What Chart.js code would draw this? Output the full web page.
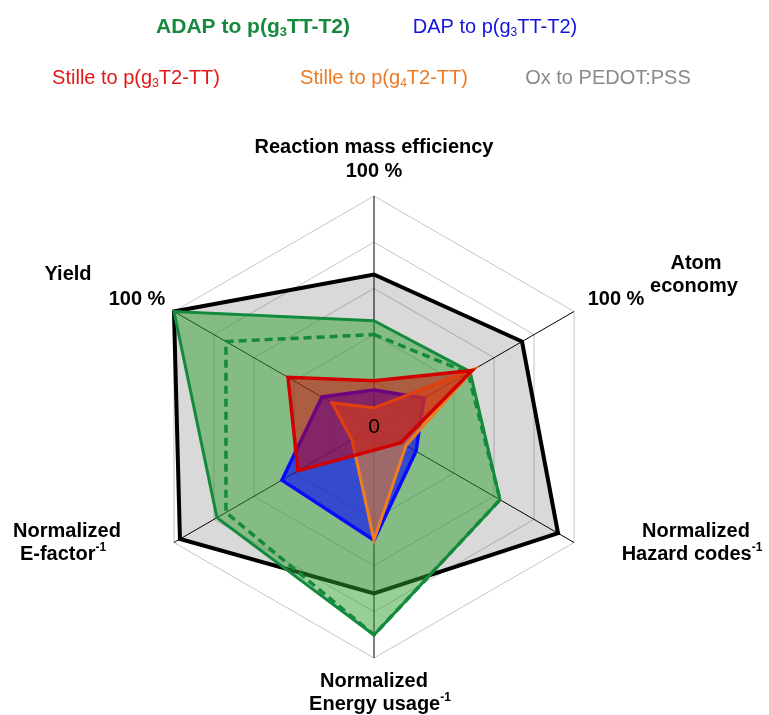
<!DOCTYPE html>
<html>
<head>
<meta charset="utf-8">
<script src="https://cdn.jsdelivr.net/npm/chart.js@4.4.1/dist/chart.umd.min.js"></script>
<style>
  html, body { margin: 0; padding: 0; background: #ffffff; }
  #wrap { width: 769px; height: 715px; }
</style>
</head>
<body>
<div id="wrap"><canvas id="radar" width="769" height="715"></canvas></div>
<script>
// Axis order, clockwise from the top
const axisLines = [
  ['Reaction mass efficiency'],
  ['Atom', 'economy'],
  ['Normalized', 'Hazard codes^{-1}'],
  ['Normalized', 'Energy usage^{-1}'],
  ['Normalized', 'E-factor^{-1}'],
  ['Yield']
];
const axisLabels = axisLines.map(l => l.join(' '));

// Scale texts
const centerTick = '0';
const fullTick = '100 %';

// Legend entries
const seriesNames = [
  'ADAP to p(g_{3}TT-T2)',
  'DAP to p(g_{3}TT-T2)',
  'Stille to p(g_{3}T2-TT)',
  'Stille to p(g_{4}T2-TT)',
  'Ox to PEDOT:PSS'
];

// Fractions of the best value on each axis (0 = centre, 1 = 100 %)
const adapSolid   = [0.46, 0.48, 0.63, 0.90, 0.785, 1.00];
const adapDashed  = [0.40, 0.47, 0.63, 0.90, 0.74, 0.74];
const dapValues   = [0.16, 0.25, 0.21, 0.49, 0.46, 0.26];
const stilleG3    = [0.20, 0.49, 0.135, 0.10, 0.38, 0.43];
const stilleG4    = [0.083, 0.50, 0.16, 0.49, 0.11, 0.21];
const oxPedot     = [0.66, 0.74, 0.92, 0.72, 0.97, 1.00];

const FONT = '"Liberation Sans", Arial, sans-serif';

// Draw a string with _{..} subscripts and ^{..} superscripts, centred at x
function richText(ctx, str, x, y, size, bold, color) {
  const parts = [];
  const re = /([_^])\{([^}]*)\}/g;
  let last = 0, m;
  while ((m = re.exec(str)) !== null) {
    if (m.index > last) parts.push({ t: str.slice(last, m.index), k: '' });
    parts.push({ t: m[2], k: m[1] });
    last = re.lastIndex;
  }
  if (last < str.length) parts.push({ t: str.slice(last), k: '' });
  const w = bold ? 'bold ' : '';
  const fontFor = p => w + (p.k ? Math.round(size * 0.62) : size) + 'px ' + FONT;
  let total = 0;
  parts.forEach(p => { ctx.font = fontFor(p); p.w = ctx.measureText(p.t).width; total += p.w; });
  let cx = x - total / 2;
  ctx.fillStyle = color;
  ctx.textAlign = 'left';
  ctx.textBaseline = 'middle';
  parts.forEach(p => {
    ctx.font = fontFor(p);
    let dy = 0;
    if (p.k === '_') dy = size * 0.28;
    if (p.k === '^') dy = -size * 0.33;
    ctx.fillText(p.t, cx, y + dy);
    cx += p.w;
  });
}

// Placement of axis captions relative to the plot centre
const captionPos = [
  [[0, -279.5]],
  [[322, -164], [320, -141]],
  [[322, 104], [318, 127.5]],
  [[0, 254], [6, 277.5]],
  [[-307, 104], [-311, 127.5]],
  [[-306, -152.5]]
];
const fullTickPos = [[0, -255.5], [242, -127.5], null, null, null, [-237, -127.5]];

const legendColors = ['#17893f', '#1414dc', '#e51616', '#ec7a24', '#8a8a8a'];
// x centre, y centre, bold, font size
const legendPos = [[253, 27, true, 21], [495, 27, false, 20], [136, 78, false, 20], [384, 78, false, 20], [608, 78, false, 20]];

const textPlugin = {
  id: 'radarTexts',
  afterDatasetsDraw(chart) {
    const ctx = chart.ctx;
    const s = chart.scales.r;
    ctx.save();
    // axis captions
    axisLines.forEach((lines, i) => {
      lines.forEach((ln, j) => {
        const p = captionPos[i][j];
        richText(ctx, ln, s.xCenter + p[0], s.yCenter + p[1], 20, true, '#000');
      });
      if (fullTickPos[i]) {
        richText(ctx, fullTick, s.xCenter + fullTickPos[i][0], s.yCenter + fullTickPos[i][1], 20, true, '#000');
      }
    });
    // centre value
    richText(ctx, centerTick, s.xCenter, s.yCenter, 21, false, '#000');
    // legend
    seriesNames.forEach((nm, i) => {
      const p = legendPos[i];
      richText(ctx, nm, p[0], p[1], p[3], p[2], legendColors[i]);
    });
    ctx.restore();
  }
};

const common = { pointRadius: 0, pointHoverRadius: 0, tension: 0, borderJoinStyle: 'miter' };

new Chart(document.getElementById('radar'), {
  type: 'radar',
  data: {
    labels: axisLabels,
    datasets: [
      Object.assign({ label: seriesNames[2], data: stilleG3, borderColor: '#d10000', backgroundColor: 'rgba(210,0,0,0.5)', borderWidth: 3.5, fill: true, order: 1 }, common),
      Object.assign({ label: seriesNames[3], data: stilleG4, borderColor: '#f27d1c', backgroundColor: 'rgba(228,127,39,0.6)', borderWidth: 3, fill: true, order: 2 }, common),
      Object.assign({ label: seriesNames[1], data: dapValues, borderColor: '#0a0aff', backgroundColor: 'rgba(0,0,255,0.6)', borderWidth: 3.5, fill: true, order: 3 }, common),
      Object.assign({ label: seriesNames[0] + ' (dashed)', data: adapDashed, borderColor: '#138a3c', backgroundColor: 'rgba(0,0,0,0)', borderWidth: 3.5, borderDash: [8, 5], fill: false, order: 4 }, common),
      Object.assign({ label: seriesNames[0], data: adapSolid, borderColor: '#138a3c', backgroundColor: 'rgba(50,160,50,0.5)', borderWidth: 3, fill: true, order: 5 }, common),
      Object.assign({ label: seriesNames[4], data: oxPedot, borderColor: '#000000', backgroundColor: 'rgba(0,0,0,0.15)', borderWidth: 4, fill: true, order: 6 }, common)
    ]
  },
  options: {
    responsive: false,
    animation: false,
    layout: { padding: { top: 196, bottom: 56, left: 143, right: 164 } },
    plugins: { legend: { display: false }, tooltip: { enabled: false } },
    scales: {
      r: {
        min: 0,
        max: 1,
        ticks: { display: false, stepSize: 0.2 },
        pointLabels: { display: false },
        grid: { color: '#c6c6c6', lineWidth: 1 },
        angleLines: { color: '#000000', lineWidth: 1 }
      }
    }
  },
  plugins: [textPlugin]
});
</script>
</body>
</html>
